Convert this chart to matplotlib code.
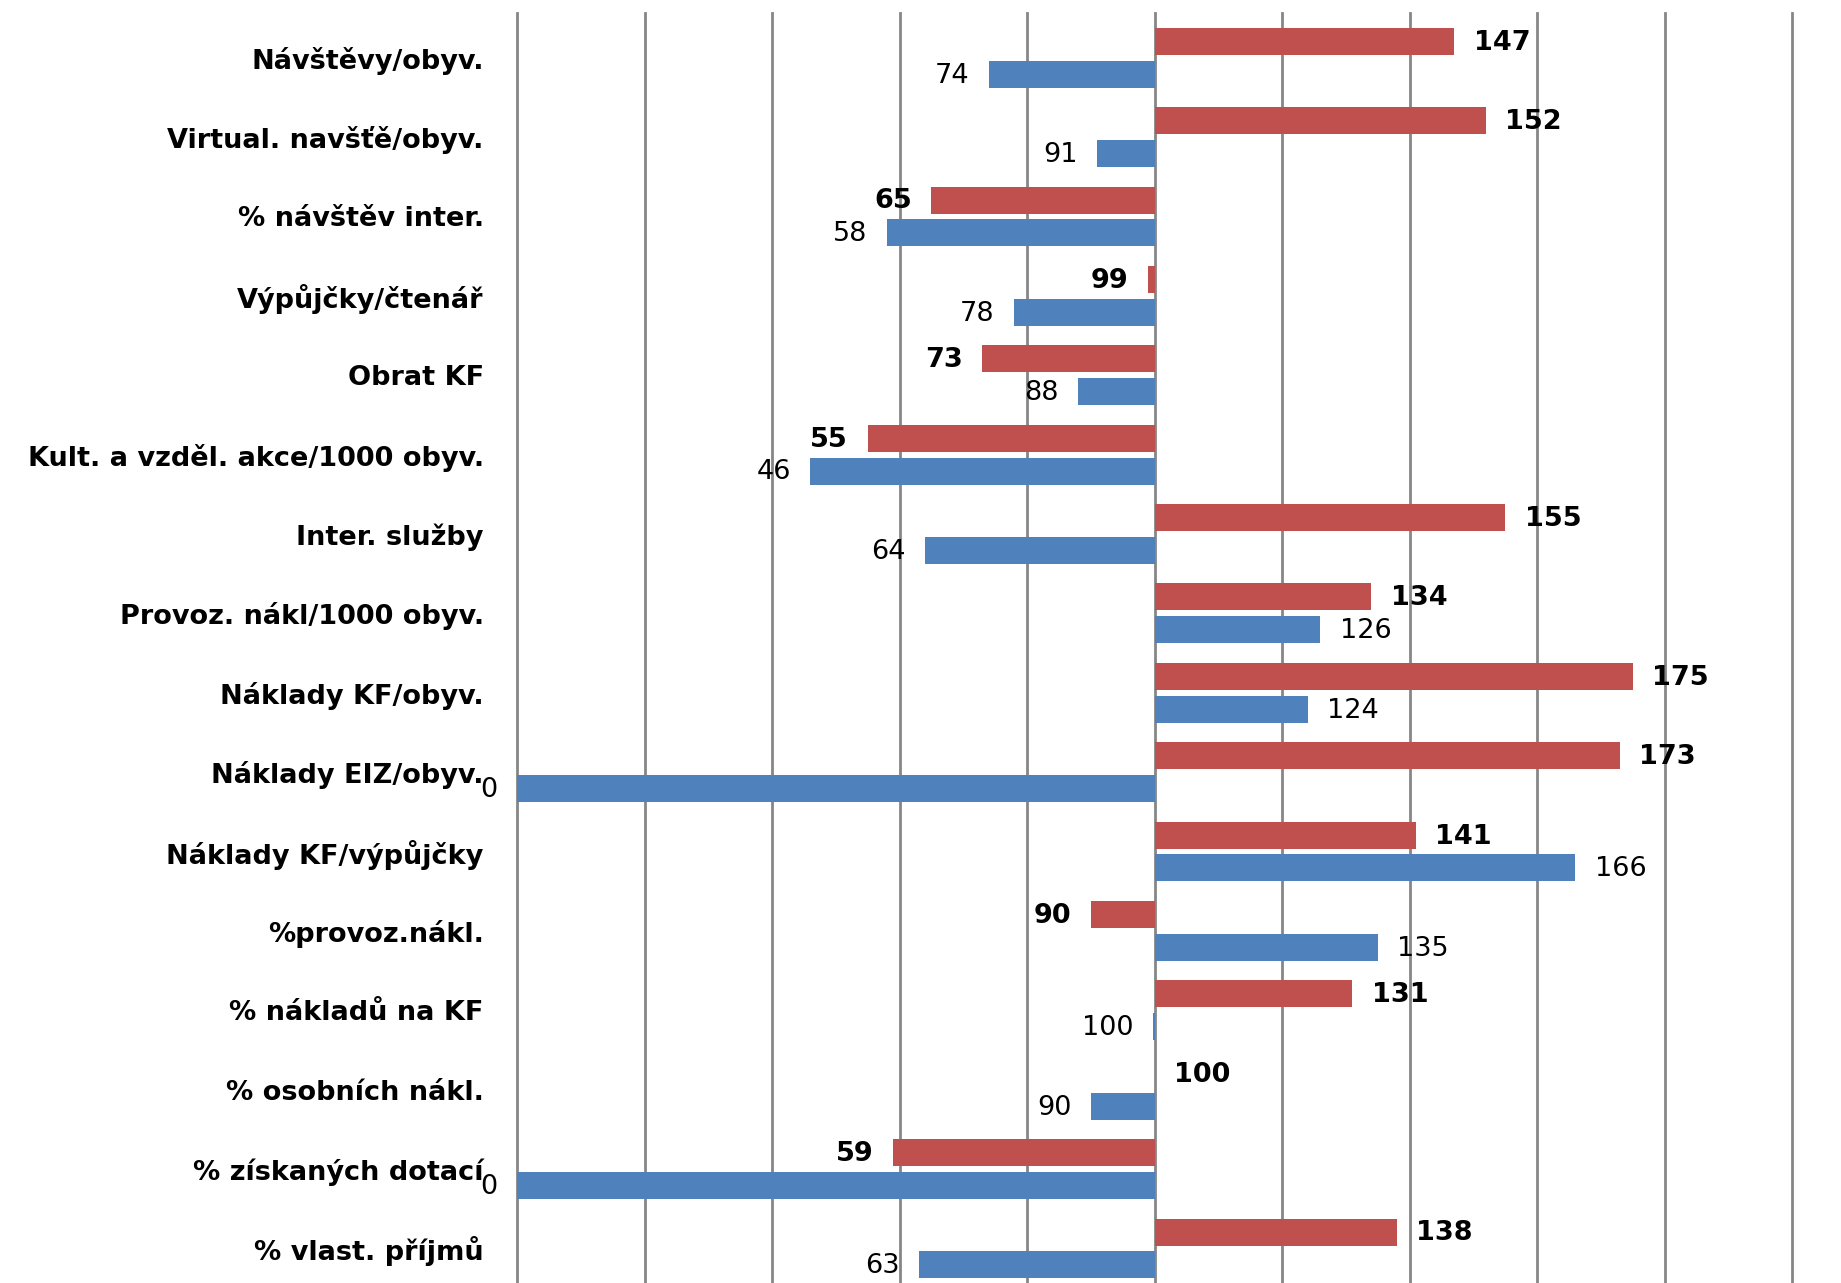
import matplotlib
matplotlib.use("Agg")
import matplotlib.pyplot as plt
import numpy as np

categories = [
    "Návštěvy/obyv.",
    "Virtual. navšťě/obyv.",
    "% návštěv inter.",
    "Výpůjčky/čtenář",
    "Obrat KF",
    "Kult. a vzděl. akce/1000 obyv.",
    "Inter. služby",
    "Provoz. nákl/1000 obyv.",
    "Náklady KF/obyv.",
    "Náklady EIZ/obyv.",
    "Náklady KF/výpůjčky",
    "%provoz.nákl.",
    "% nákladů na KF",
    "% osobních nákl.",
    "% získaných dotací",
    "% vlast. příjmů",
]
red_values = [147, 152, 65, 99, 73, 55, 155, 134, 175, 173, 141, 90, 131, 100, 59, 138]
blue_values = [74, 91, 58, 78, 88, 46, 64, 126, 124, 0, 166, 135, 99.7, 90, 0, 63]
baseline = 100
x_ticks = list(range(0, 201, 20))

RED = "#C0504D"
BLUE = "#4F81BD"
GRID = "#868686"

fig = plt.figure(figsize=(18.41, 12.83), dpi=100)
ax = fig.add_axes([517 / 1841, -0.002, (1792 - 517) / 1841, 1 - 13 / 1283 + 0.002])

n = len(categories)
y = np.arange(n)
off = 0.207
h = 0.34

red = np.array(red_values, dtype=float)
blue = np.array(blue_values, dtype=float)
ax.barh(y - off, red - baseline, left=baseline, height=h, color=RED, zorder=3)
ax.barh(y + off, blue - baseline, left=baseline, height=h, color=BLUE, zorder=3)

def lab(v, yy, bold):
    txt = f"{v:.0f}"
    if v >= baseline:
        ax.annotate(txt, (v, yy), xytext=(14, -1), textcoords="offset points",
                    ha="left", va="center", fontsize=19.5,
                    fontweight="bold" if bold else "normal", zorder=4)
    else:
        ax.annotate(txt, (v, yy), xytext=(-14, -1), textcoords="offset points",
                    ha="right", va="center", fontsize=19.5,
                    fontweight="bold" if bold else "normal", zorder=4)

for i in range(n):
    lab(red[i], y[i] - off, True)
    lab(blue[i], y[i] + off, False)

ax.set_xlim(0, 200)
ax.set_ylim(n - 0.5 - 0.033, -0.563)
ax.set_xticks(x_ticks)
ax.set_xticklabels([])
ax.tick_params(axis="x", length=0)
for xv in x_ticks:
    ax.axvline(xv, color=GRID, linewidth=2, zorder=0, clip_on=False)
ax.set_yticks(y)
ax.set_yticklabels(categories, fontsize=19.5, fontweight="bold")
ax.tick_params(axis="y", length=0, pad=24)
for s in ax.spines.values():
    s.set_visible(False)

fig.savefig("out.png", dpi=100)
